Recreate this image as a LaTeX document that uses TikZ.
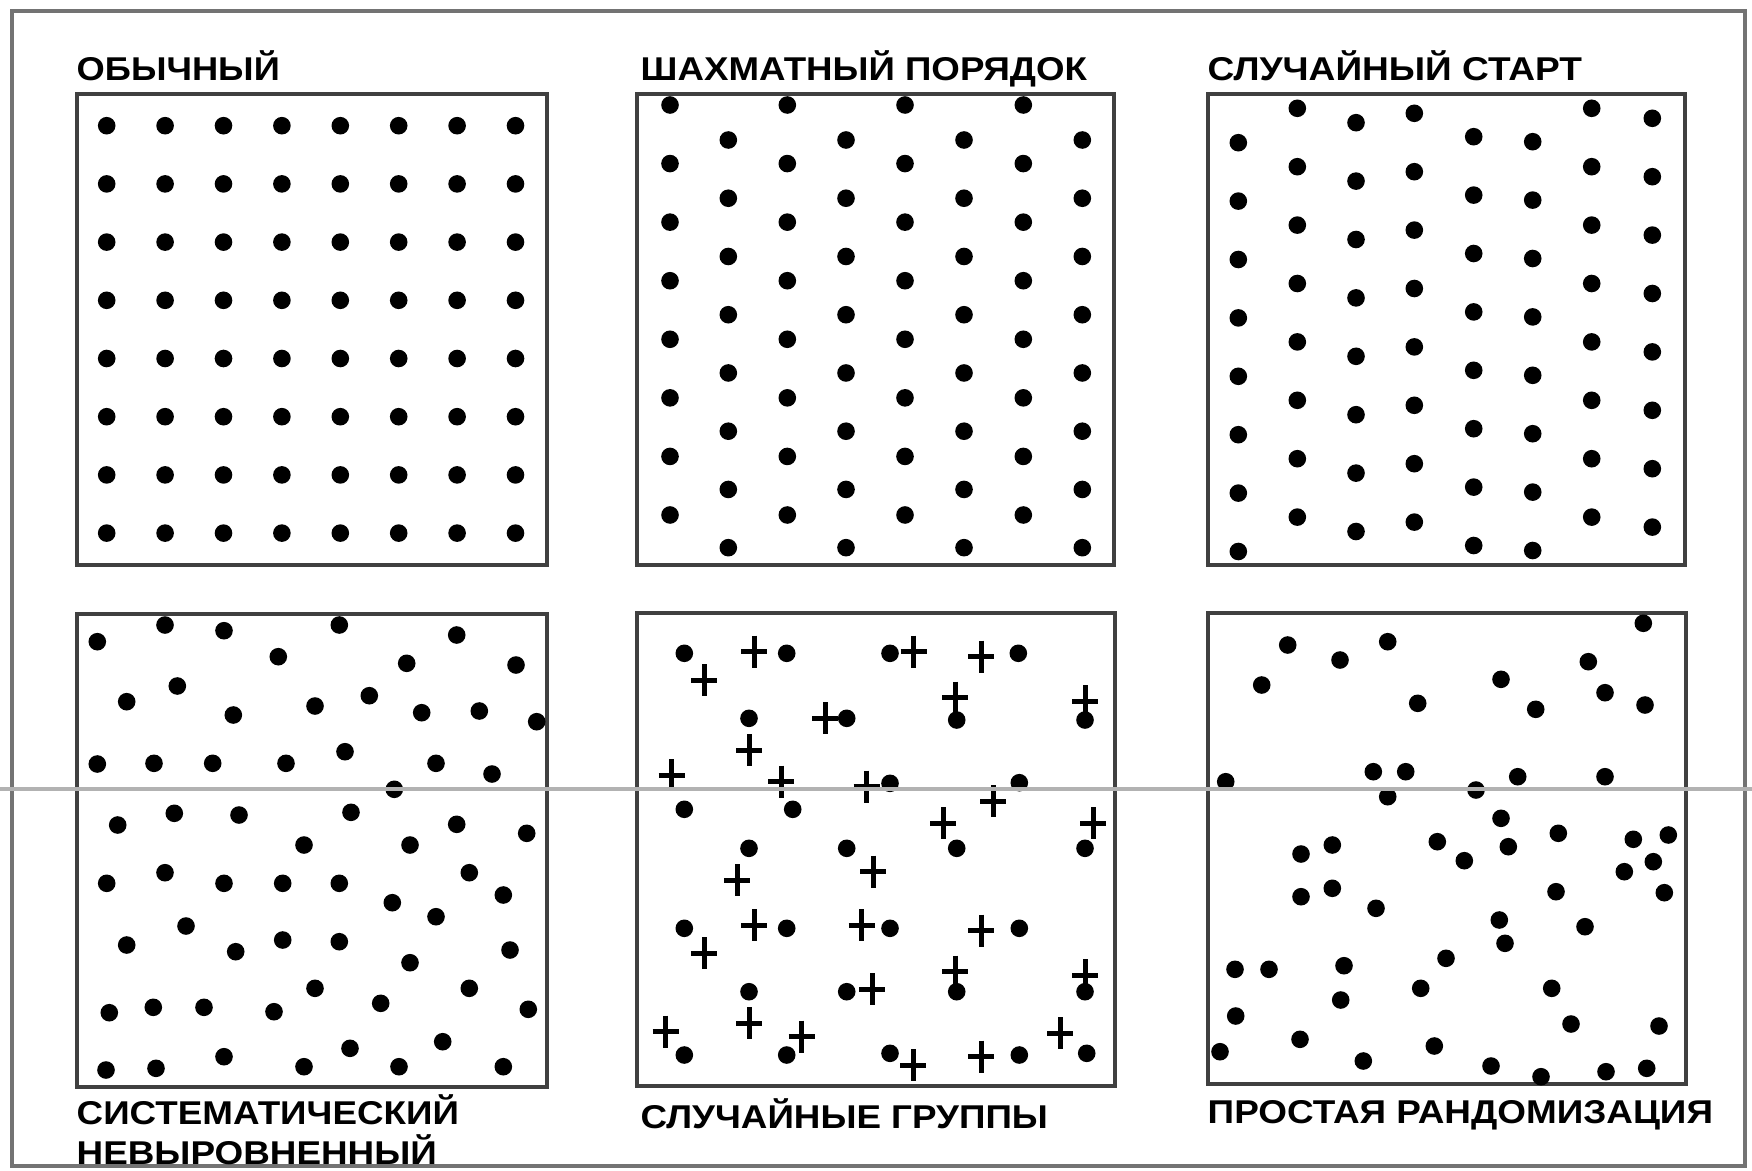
\documentclass[tikz,border=0pt]{standalone}
\usepackage{fontspec}
\setmainfont{Liberation Sans}
\usepackage{graphicx}
\newcommand\capsfit[2]{\resizebox{#1}{0.23cm}{\bfseries\vphantom{O}\smash{#2}}}
\begin{document}
\begin{tikzpicture}[x=0.01cm,y=-0.01cm,
  panel/.style={draw=black!75,line width=0.045cm},
  frame/.style={draw=black!55,line width=0.04cm},
  scanline/.style={draw=black!30,line width=0.035cm},
  dotmark/.style={fill=black},
  crossline/.style={draw=black,line width=0.05cm},
  lbl/.style={inner sep=0pt,anchor=west}]
\useasboundingbox[fill=white] (0,0) rectangle (1752,1170);
% outer frame
\draw[frame] (12,11) rectangle (1745,1166);
% panels
\draw[panel] (77,94) rectangle (547,565);
\draw[panel] (637,94) rectangle (1114,565);
\draw[panel] (1208,94) rectangle (1685,565);
\draw[panel] (77,614) rectangle (547,1087);
\draw[panel] (637,613) rectangle (1115,1086);
\draw[panel] (1208,613) rectangle (1686,1084);
% panel 1: regular
\foreach \i in {0,...,7}
  \foreach \j in {0,...,7}
    \fill[dotmark] (106.7+58.4*\i,125.7+58.2*\j) circle[radius=0.088cm];
% panel 2: staggered
\foreach \x in {670,787.3,905,1023.3}
  \foreach \j in {0,...,7}
    \fill[dotmark] (\x,105+58.57*\j) circle[radius=0.088cm];
\foreach \x in {728.3,846,964,1082.3}
  \foreach \j in {0,...,7}
    \fill[dotmark] (\x,140+58.24*\j) circle[radius=0.088cm];
% panel 3: random start
\foreach \x/\y in {1238.3/142.7,1297.3/108.3,1356/122.7,1414.3/113.3,1473.7/136.7,1532.7/141.7,1591.7/108.3,1652.3/118.3}
  \foreach \j in {0,...,7}
    \fill[dotmark] (\x,\y+58.4*\j) circle[radius=0.088cm];
% panel 4: systematic unaligned
\foreach \p in {(97.3,641.7),(165,625),(224,630.7),(339.3,625),(456.7,635),(278.3,656.7),(406.7,663.3),(516,665),
  (177.3,686),(126.7,701.7),(233.3,715),(315,706),(369.3,695.7),(421.7,712.7),(479.3,711),(536.7,721.7),
  (97.3,764),(154,763.3),(212.7,763.3),(286,763.3),(345,751.7),(436,763.3),(492,774),(394.3,789.3),
  (117.7,825),(174.3,813.3),(239,815),(351,812.3),(456.7,824.3),(526.7,833.3),(304,845),(410,845),
  (106.7,883.3),(165,872.7),(224,883.3),(282.7,883.3),(339.3,883.3),(469.3,872.7),(392.3,902.7),(503.3,895),
  (436,916.7),(186,926),(126.7,945),(235.7,951.7),(282.7,940),(339.3,941.7),(410,962.7),(510,950),
  (315,988.3),(469.3,988.3),(109.3,1012.7),(153.3,1007.3),(204,1007.3),(274,1011.7),(380.7,1003.3),(528.3,1009.3),
  (350,1048.3),(442.7,1041.7),(224,1056.7),(106,1070),(156,1068.3),(304,1066.7),(399,1066.7),(503.3,1066.7)}
  \fill[dotmark] \p circle[radius=0.088cm];
% panel 5: random groups (dots)
\foreach \p in {(684.3,653.3),(786.7,653.3),(890,653.3),(1018.3,653.3),
  (749,718.3),(846.7,718.3),(956.7,720),(1085,720),
  (684.3,809.3),(792.7,809.3),(890,783.3),(1019.3,782.7),
  (749,848.3),(846.7,848.3),(956.7,848.3),(1085,848.3),
  (684.3,928.3),(786.7,928.3),(890,928.3),(1019.3,928.3),
  (749,991.7),(846.7,991.7),(956.7,991.7),(1085,991.7),
  (684.3,1055),(786.7,1055),(890,1053.3),(1019.3,1055),(1086.7,1053.3)}
  \fill[dotmark] \p circle[radius=0.088cm];
% panel 5: random groups (crosses)
\foreach \p in {(754.3,651.7),(704.3,680),(913.7,651.7),(981,656.7),(825,718.3),(955,697.7),(1085,701),
  (749,750),(671.7,775),(781,781.7),(866.7,786.7),(993.3,801),(943.3,823.3),(1093.3,823.3),
  (873.3,871.7),(737.3,880),(754.3,925),(704.3,953.3),(861.7,925),(981,930.7),(955,971.7),
  (1085,975),(872.3,989.3),(749,1023.3),(665.7,1031.7),(801.7,1036.7),(1060,1033.3),(913.3,1065),(981,1056.7)}
  \draw[crossline] \p +(-13,0) -- +(13,0) \p +(0,-16) -- +(0,16);
% panel 6: simple random
\foreach \p in {(1643.3,623.3),(1287.7,645),(1387.7,641.7),(1340,660),(1588.3,661.7),(1261.7,685),(1501,679.3),
  (1417.7,703.3),(1535.7,709.3),(1605,692.7),(1645,705),(1225.7,781.7),(1373.3,771.7),(1405.7,771.7),
  (1387.7,796.7),(1476,790),(1517.7,776.7),(1605,776.7),(1501,818.3),(1558.3,833.3),(1633.3,839.3),
  (1668.3,835),(1301,854),(1332.3,845),(1437.3,841.7),(1508.3,846.7),(1464.3,860.7),(1624.3,871.7),
  (1653.3,861.7),(1301,896.7),(1332.3,888.3),(1556,891.7),(1664.3,892.7),(1376,908.3),(1499.3,920),
  (1585,926.7),(1505,943.3),(1446,958.3),(1235,969.3),(1269,969.3),(1344,965.7),(1420.7,988.3),
  (1551.7,988.3),(1340.7,1000),(1235.7,1016),(1571,1024),(1659,1026),(1300,1039.3),(1434.3,1046),
  (1220,1051.7),(1363.3,1061),(1491,1066),(1541,1076.7),(1606,1071.7),(1646.7,1068.3)}
  \fill[dotmark] \p circle[radius=0.088cm];
% labels
\node[lbl] (l1) at (76,69) {\capsfit{2.03cm}{ОБЫЧНЫЙ}};
\node[lbl] (l2) at (640,69) {\capsfit{4.46cm}{ШАХМАТНЫЙ ПОРЯДОК}};
\node[lbl] (l3) at (1207,69) {\capsfit{3.74cm}{СЛУЧАЙНЫЙ СТАРТ}};
\node[lbl] (l4) at (76,1113) {\capsfit{3.82cm}{СИСТЕМАТИЧЕСКИЙ}};
\node[lbl] (l4b) at (76,1153) {\capsfit{3.60cm}{НЕВЫРОВНЕННЫЙ}};
\node[lbl] (l5) at (640,1117) {\capsfit{4.07cm}{СЛУЧАЙНЫЕ ГРУППЫ}};
\node[lbl] (l6) at (1207,1112) {\capsfit{5.05cm}{ПРОСТАЯ РАНДОМИЗАЦИЯ}};
% scan line
\draw[scanline] (0,789) -- (1752,789);
\end{tikzpicture}
\end{document}
